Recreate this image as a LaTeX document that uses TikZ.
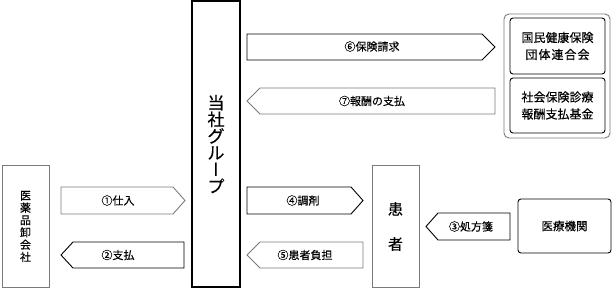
\documentclass[tikz,border=0pt]{standalone}
\usepackage{fontspec}
\setmainfont{Noto Sans CJK JP}[FakeBold=0.35]
\newfontfamily\vfont{Noto Sans CJK JP}[RawFeature=+vert,FakeBold=0.35]
\definecolor{bordergray}{HTML}{7A7A7A}
\tikzset{
  box/.style={draw, inner sep=0pt, align=center, line width=0.9pt},
  graybox/.style={box, draw=bordergray},
  rbox/.style={box, rounded corners=3pt},
  arr/.style={line width=0.9pt, draw=black, fill=white},
  grayarr/.style={arr, draw=bordergray},
  lbl/.style={inner sep=0pt, font=\fontsize{11}{13}\selectfont},
}
\begin{document}
\begin{tikzpicture}[x=1pt,y=-1pt]
\useasboundingbox (0,0) rectangle (612,289);
% main company box
\node[box, line width=2pt, minimum width=48pt, minimum height=286pt,
      font=\fontsize{17}{16.7}\selectfont] (group) at (216,144)
  {当\\社\\グ\\ル\\{\vfont ー}\\プ};
% wholesaler
\node[graybox, minimum width=47pt, minimum height=122pt,
      font=\fontsize{11}{12.3}\selectfont] (whole) at (25.5,226.5)
  {医\\薬\\品\\卸\\会\\社};
% patient
\node[graybox, minimum width=47pt, minimum height=122pt,
      font=\fontsize{15}{35}\selectfont] (patient) at (395.5,226.5)
  {患\\者};
% medical institution
\node[rbox, minimum width=93pt, minimum height=54pt,
      font=\fontsize{11.5}{14}\selectfont] (med) at (564.5,226)
  {医療機関};
% insurance group
\node[box, draw=bordergray, rounded corners=5pt, minimum width=106pt, minimum height=124pt] (ins) at (557,76) {};
\node[rbox, minimum width=95pt, minimum height=56pt,
      font=\fontsize{12}{17}\selectfont] (kokuho) at (557.5,46)
  {国民健康保険\\団\kern1pt 体\kern1pt 連\kern1pt 合\kern1pt 会};
\node[rbox, minimum width=95pt, minimum height=55pt,
      font=\fontsize{12}{17}\selectfont] (shaho) at (557.5,105.5)
  {社会保険診療\\報酬支払基金};

% block arrows
% (6) right
\draw[arr] (247,34) -- (482,34) -- (495,47) -- (482,60) -- (247,60) -- cycle;
\node[lbl] (a6) at (372,46.5) {⑥保険請求};
% (7) left
\draw[grayarr] (495,88) -- (260,88) -- (247,101) -- (260,114) -- (495,114) -- cycle;
\node[lbl] (a7) at (372,101) {⑦報酬の支払};
% (1) right
\draw[grayarr] (61,187) -- (173,187) -- (185,200.5) -- (173,214) -- (61,214) -- cycle;
\node[lbl] (a1) at (118,200.5) {①仕入};
% (2) left
\draw[arr] (184,242) -- (73,242) -- (61,255) -- (73,268) -- (184,268) -- cycle;
\node[lbl] (a2) at (118,255) {②支払};
% (4) right
\draw[arr] (247,187) -- (351,187) -- (363,200.5) -- (351,214) -- (247,214) -- cycle;
\node[lbl] (a4) at (303,200.5) {④調剤};
% (5) left
\draw[grayarr] (363,242) -- (260,242) -- (247,255) -- (260,268) -- (363,268) -- cycle;
\node[lbl] (a5) at (305,255) {⑤患者負担};
% (3) left
\draw[arr] (510,213) -- (438,213) -- (426,226.5) -- (438,240) -- (510,240) -- cycle;
\node[lbl] (a3) at (471,226.5) {③処方箋};
\end{tikzpicture}
\end{document}
